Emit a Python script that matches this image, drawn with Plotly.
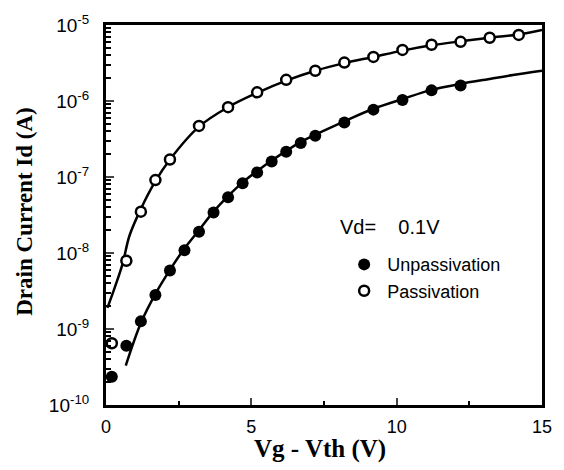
import plotly.graph_objects as go

# Measured points
x_unpass = [0.2, 0.7, 1.2, 1.7, 2.2, 2.7, 3.2, 3.7, 4.2, 4.7, 5.2, 5.7, 6.2, 6.7, 7.2,
            8.2, 9.2, 10.2, 11.2, 12.2]
y_unpass = [2.35e-10, 6.0e-10, 1.26e-9, 2.8e-9, 5.9e-9, 1.09e-8, 1.9e-8, 3.4e-8, 5.4e-8,
            8.3e-8, 1.15e-7, 1.6e-7, 2.15e-7, 2.8e-7, 3.5e-7,
            5.2e-7, 7.7e-7, 1.03e-6, 1.38e-6, 1.6e-6]

x_pass = [0.2, 0.7, 1.2, 1.7, 2.2, 3.2, 4.2, 5.2, 6.2, 7.2, 8.2, 9.2, 10.2, 11.2,
          12.2, 13.2, 14.2]
y_pass = [6.5e-10, 7.9e-9, 3.5e-8, 9.1e-8, 1.7e-7, 4.7e-7, 8.3e-7, 1.3e-6, 1.9e-6,
          2.5e-6, 3.2e-6, 3.8e-6, 4.7e-6, 5.5e-6, 6.0e-6, 6.8e-6, 7.4e-6]

# Fitted (model) curves
x_fit_unpass = [0.68, 1.2, 1.7, 2.2, 2.7, 3.2, 3.7, 4.2, 4.7, 5.2, 5.7, 6.2, 6.7, 7.2,
                8.2, 9.2, 10.2, 11.2, 12.2, 13.2, 14.0, 15.0]
y_fit_unpass = [3.3e-10, 1.2e-9, 2.9e-9, 6.0e-9, 1.15e-8, 2.0e-8, 3.5e-8, 5.6e-8, 8.5e-8,
                1.2e-7, 1.65e-7, 2.2e-7, 2.9e-7, 3.6e-7, 5.4e-7, 7.9e-7, 1.06e-6,
                1.4e-6, 1.68e-6, 1.95e-6, 2.2e-6, 2.5e-6]

x_fit_pass = [0.05, 0.3, 0.57, 0.81, 1.2, 1.7, 2.2, 3.2, 4.2, 5.2, 6.2, 7.2, 8.2, 9.2,
              10.2, 11.2, 12.2, 13.2, 14.2, 15.0]
y_fit_pass = [1.9e-9, 3.5e-9, 7.2e-9, 1.7e-8, 3.8e-8, 8.8e-8, 1.7e-7, 4.6e-7, 8.3e-7,
              1.28e-6, 1.85e-6, 2.5e-6, 3.15e-6, 3.8e-6, 4.6e-6, 5.4e-6, 6.1e-6,
              6.8e-6, 7.5e-6, 8.6e-6]

y_tick_vals = [1e-10, 1e-9, 1e-8, 1e-7, 1e-6, 1e-5]
y_tick_text = ["10<sup>-10</sup>", "10<sup>-9</sup>", "10<sup>-8</sup>",
               "10<sup>-7</sup>", "10<sup>-6</sup>", "10<sup>-5</sup>"]
x_tick_vals = [0, 5, 10, 15]
x_minor_vals = [2.5, 7.5, 12.5]

y_minor = [m * 10.0 ** e for e in range(-10, -5) for m in range(2, 10)]

fig = go.Figure()
fig.add_trace(go.Scatter(x=x_fit_unpass, y=y_fit_unpass, mode="lines",
                         line=dict(color="black", width=2.5), showlegend=False,
                         line_shape="spline"))
fig.add_trace(go.Scatter(x=x_fit_pass, y=y_fit_pass, mode="lines",
                         line=dict(color="black", width=2.5), showlegend=False,
                         line_shape="spline"))
fig.add_trace(go.Scatter(x=x_unpass, y=y_unpass, mode="markers", name="Unpassivation",
                         marker=dict(symbol="circle", size=12, color="black")))
fig.add_trace(go.Scatter(x=x_pass, y=y_pass, mode="markers", name="Passivation",
                         marker=dict(symbol="circle", size=10, color="white",
                                     line=dict(color="black", width=2.5))))

fig.update_layout(
    width=564, height=470,
    margin=dict(l=106, r=13, t=15, b=65),
    paper_bgcolor="white", plot_bgcolor="white",
    font=dict(family="Liberation Sans, Arial", color="black", size=18),
    legend=dict(
        x=(346 - 106) / 445, y=1 - (242 - 15) / 390, xanchor="left", yanchor="top",
        font=dict(size=18), bgcolor="rgba(0,0,0,0)", itemwidth=36,
    ),
    xaxis=dict(
        range=[0, 15], tickvals=x_tick_vals, ticks="inside", ticklen=7, tickwidth=2,
        showline=True, linecolor="black", linewidth=3, mirror=True,
        showgrid=False, zeroline=False, tickfont=dict(size=18), ticklabelstandoff=3,
        minor=dict(tickmode="array", tickvals=x_minor_vals, ticks="inside", ticklen=4,
                   tickwidth=2, tickcolor="black", showgrid=False),
    ),
    yaxis=dict(
        type="log", range=[-10, -5], tickvals=y_tick_vals, ticktext=y_tick_text,
        ticks="inside", ticklen=8, tickwidth=2,
        showline=True, linecolor="black", linewidth=3, mirror=True,
        showgrid=False, zeroline=False, tickfont=dict(size=19), ticklabelstandoff=10,
        minor=dict(tickmode="array", tickvals=y_minor, ticks="inside", ticklen=5,
                   tickwidth=1.5, tickcolor="black", showgrid=False),
    ),
    annotations=[
        dict(text="Vd=&nbsp;&nbsp;&nbsp; 0.1V", xref="paper", yref="paper",
             x=(343 - 106) / 445, y=1 - (222 - 15) / 390, xanchor="left", yanchor="middle",
             showarrow=False, font=dict(size=20)),
        dict(text="<b>Vg - Vth (V)</b>", xref="paper", yref="paper",
             x=(324 - 106) / 445, y=-(450 - 405) / 390, xanchor="center", yanchor="middle",
             showarrow=False, font=dict(family="Liberation Serif, Times New Roman", size=25)),
        dict(text="<b>Drain Current Id (A)</b>", xref="paper", yref="paper",
             x=-(106 - 22) / 445, y=1 - (207 - 15) / 390, xanchor="center", yanchor="middle",
             textangle=-90, showarrow=False,
             font=dict(family="Liberation Serif, Times New Roman", size=23)),
    ],
)

fig.write_html("out.html")
